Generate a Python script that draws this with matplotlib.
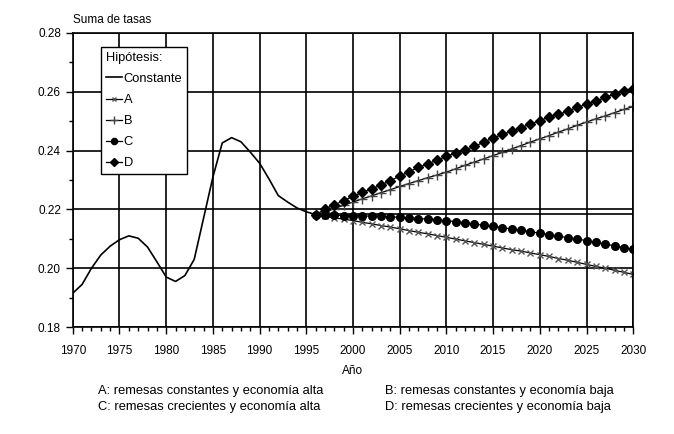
import matplotlib
matplotlib.use("Agg")
import matplotlib.pyplot as plt
from matplotlib.ticker import MultipleLocator

plt.rcParams['font.family'] = ['Liberation Sans', 'DejaVu Sans']

# datos historicos (1970-1996)
hist_years = list(range(1970, 1997))
hist_vals = [0.1915, 0.1945, 0.2000, 0.2045, 0.2075, 0.2097, 0.2110, 0.2102, 0.2072,
             0.2022, 0.1970, 0.1955, 0.1975, 0.2030, 0.2170, 0.2310, 0.2426, 0.2444,
             0.2430, 0.2395, 0.2357, 0.2304, 0.2247, 0.2225, 0.2205, 0.2192, 0.2182]

# proyecciones (1996-2030)
proj_years = list(range(1996, 2031))
const_years = [1996, 2030]
const_vals = [0.2184, 0.2184]
hyp_a = [0.2180, 0.2176, 0.2171, 0.2167, 0.2162, 0.2156, 0.2151, 0.2145, 0.2140, 0.2134,
         0.2128, 0.2122, 0.2117, 0.2111, 0.2105, 0.2099, 0.2093, 0.2087, 0.2081, 0.2075,
         0.2069, 0.2063, 0.2058, 0.2052, 0.2046, 0.2040, 0.2033, 0.2027, 0.2020, 0.2013,
         0.2006, 0.2000, 0.1993, 0.1986, 0.1979]
hyp_b = [0.2180, 0.2191, 0.2203, 0.2214, 0.2225, 0.2236, 0.2246, 0.2257, 0.2267, 0.2278,
         0.2288, 0.2298, 0.2308, 0.2317, 0.2327, 0.2338, 0.2350, 0.2361, 0.2372, 0.2383,
         0.2394, 0.2406, 0.2417, 0.2429, 0.2440, 0.2451, 0.2463, 0.2474, 0.2486, 0.2497,
         0.2508, 0.2518, 0.2529, 0.2540, 0.2550]
hyp_c = [0.2180, 0.2180, 0.2180, 0.2179, 0.2178, 0.2178, 0.2177, 0.2176, 0.2175, 0.2173,
         0.2171, 0.2169, 0.2167, 0.2165, 0.2162, 0.2158, 0.2154, 0.2150, 0.2146, 0.2142,
         0.2138, 0.2133, 0.2129, 0.2124, 0.2119, 0.2114, 0.2109, 0.2104, 0.2099, 0.2094,
         0.2088, 0.2082, 0.2076, 0.2070, 0.2064]
hyp_d = [0.2180, 0.2202, 0.2215, 0.2230, 0.2244, 0.2258, 0.2270, 0.2283, 0.2298, 0.2313,
         0.2328, 0.2343, 0.2355, 0.2367, 0.2381, 0.2392, 0.2403, 0.2414, 0.2429, 0.2443,
         0.2455, 0.2466, 0.2478, 0.2491, 0.2502, 0.2514, 0.2523, 0.2534, 0.2547, 0.2558,
         0.2568, 0.2581, 0.2592, 0.2601, 0.2610]

fig = plt.figure(figsize=(6.74, 4.34), dpi=100)
ax = fig.add_axes([0.108, 0.2465, 0.8315, 0.6775])

ax.plot(hist_years, hist_vals, color="black", lw=1.2, label="Constante")
ax.plot(const_years, const_vals, color="black", lw=1.2)
ax.plot(proj_years, hyp_a, color="black", lw=0.9, marker="x", ms=4, mec="#555555", mew=1.0, label="A")
ax.plot(proj_years, hyp_b, color="black", lw=0.9, marker="+", ms=7, mec="#444444", mew=1.0, label="B")
ax.plot(proj_years, hyp_c, color="black", lw=0.9, marker="o", ms=5.5, label="C")
ax.plot(proj_years, hyp_d, color="black", lw=0.9, marker="D", ms=5.5, label="D")

ax.set_xlim(1970, 2030)
ax.set_ylim(0.18, 0.28)
ax.xaxis.set_major_locator(MultipleLocator(5))
ax.xaxis.set_minor_locator(MultipleLocator(1))
ax.yaxis.set_major_locator(MultipleLocator(0.02))
ax.yaxis.set_minor_locator(MultipleLocator(0.01))
ax.yaxis.set_major_formatter(matplotlib.ticker.FormatStrFormatter("%.2f"))
ax.grid(True, which="major", color="black", lw=1.2)
for s in ax.spines.values():
    s.set_color("black")
    s.set_linewidth(1.2)
ax.tick_params(which="major", direction="out", length=5, width=1, labelsize=8.5, colors="black")
ax.tick_params(which="minor", direction="out", length=3, width=1)
ax.tick_params(axis="x", pad=8)

ax.text(0.0, 1.025, "Suma de tasas", transform=ax.transAxes, fontsize=8.5, ha="left", va="bottom")
ax.set_xlabel("Año", fontsize=8.5, labelpad=6)

handles, labels = ax.get_legend_handles_labels()
leg = ax.legend(handles, labels, title="Hipótesis:", loc="upper left",
                bbox_to_anchor=(0.039, 0.973), fontsize=9.3, title_fontsize=9.3,
                handlelength=1.3, handletextpad=0.1, labelspacing=0.7,
                borderpad=0.35, markerscale=0.8, fancybox=False, framealpha=1,
                edgecolor="black")
leg._legend_box.align = "left"
leg.get_frame().set_linewidth(1.0)

fig.text(0.145, 0.092, "A: remesas constantes y economía alta", fontsize=9.3)
fig.text(0.145, 0.055, "C: remesas crecientes y economía alta", fontsize=9.3)
fig.text(0.571, 0.092, "B: remesas constantes y economía baja", fontsize=9.3)
fig.text(0.571, 0.055, "D: remesas crecientes y economía baja", fontsize=9.3)

fig.savefig("out.png", dpi=100)
